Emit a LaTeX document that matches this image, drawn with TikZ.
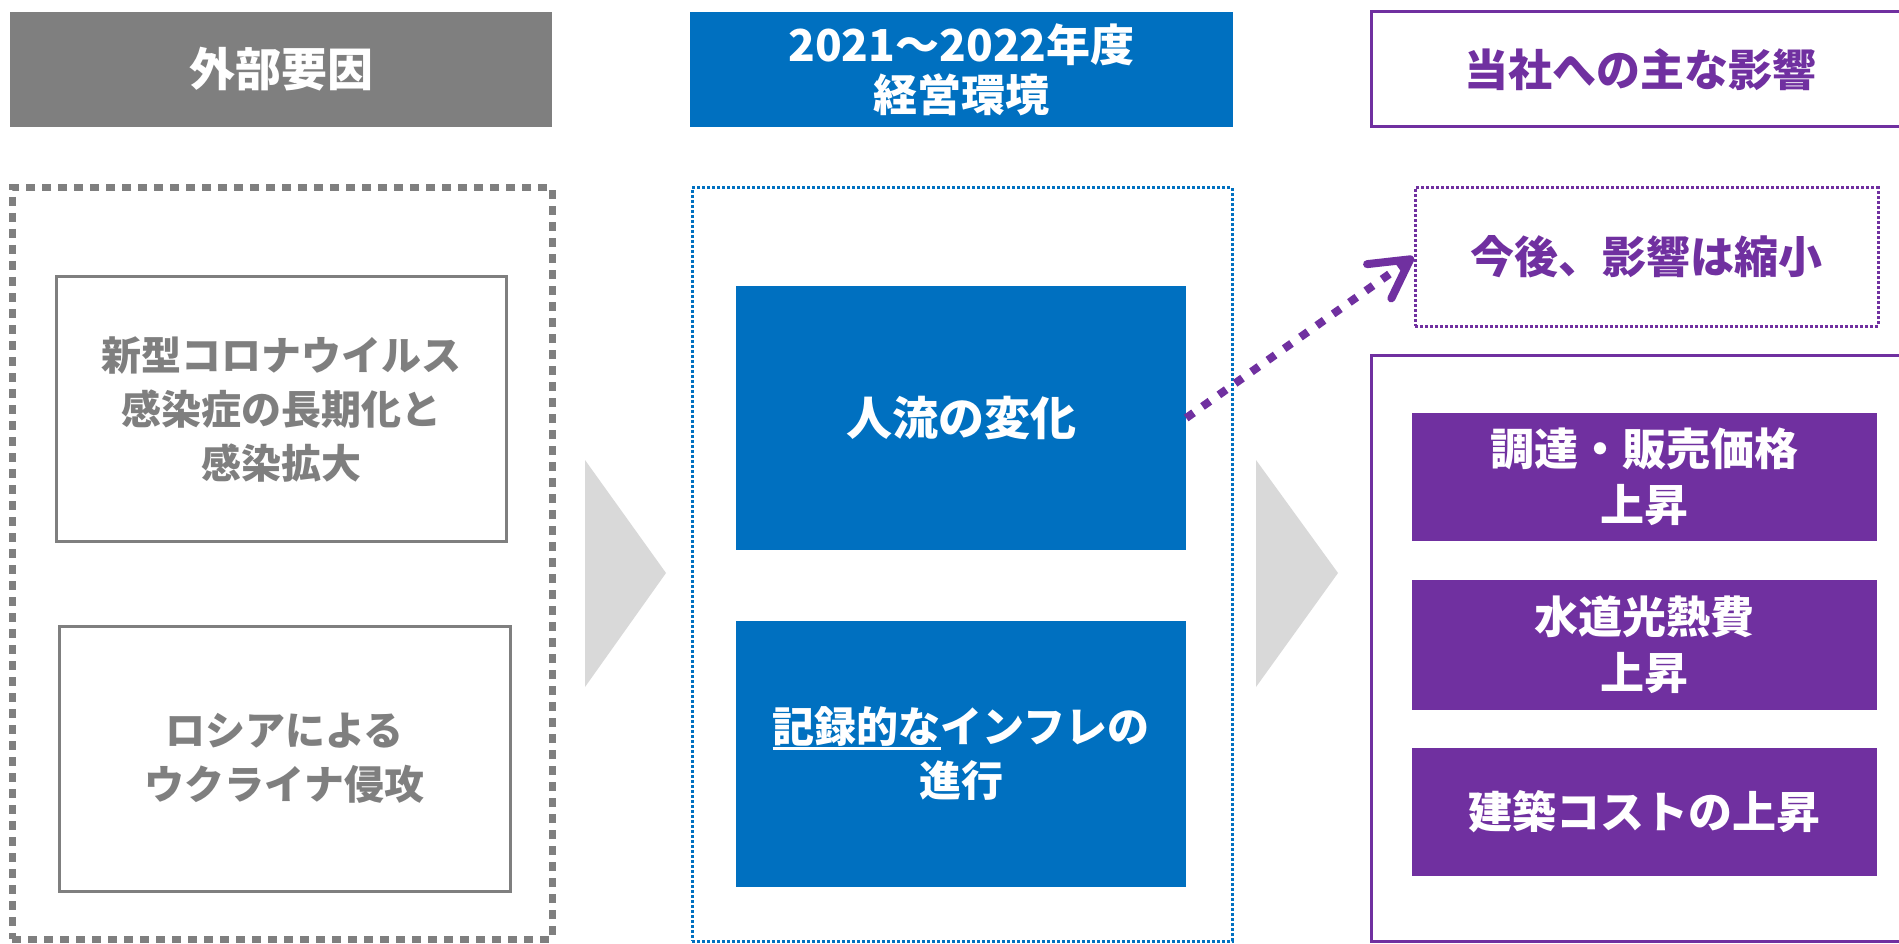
\documentclass[tikz,border=0pt]{standalone}
\usepackage{fontspec}
\setmainfont{Noto Sans CJK JP}
\usetikzlibrary{arrows.meta}
\definecolor{hgray}{HTML}{7F7F7F}
\definecolor{mblue}{HTML}{0070C0}
\definecolor{mpurple}{HTML}{7030A0}
\definecolor{chev}{HTML}{D9D9D9}
\newcommand\myul[1]{\setbox0\hbox{#1}\rlap{\rule[-7pt]{\wd0}{3pt}}\box0}
\tikzset{
  base/.style={rectangle, inner sep=0pt, align=center},
  hdr/.style={base, font=\fontsize{44}{50}\selectfont\bfseries},
  graybox/.style={base, draw=hgray, line width=3pt, text=hgray, font=\fontsize{40}{54}\selectfont\bfseries},
  bluebox/.style={base, fill=mblue, text=white, font=\fontsize{42}{54}\selectfont\bfseries},
  purpbox/.style={base, fill=mpurple, text=white, font=\fontsize{44}{56}\selectfont\bfseries},
  chevron/.style={fill=chev, draw=none},
}
\begin{document}
\begin{tikzpicture}[x=1pt,y=-1pt]
\clip (0,0) rectangle (1899,944);
\fill[white] (0,0) rectangle (1899,944);
% headers
\node[hdr, font=\fontsize{46}{50}\selectfont\bfseries, fill=hgray, text=white, minimum width=542pt, minimum height=115pt] (h1) at (281,69.5) {外部要因};
\node[hdr, fill=mblue, text=white, minimum width=543pt, minimum height=115pt] (h2) at (961.5,69.5) {2021～2022年度\\経営環境};
\node[hdr, draw=mpurple, line width=3pt, text=mpurple, minimum width=538pt, minimum height=115pt] (h3) at (1640,69.5) {当社への主な影響};
% left column
\node[base, draw=hgray, line width=7pt, dash pattern=on 9pt off 7pt, minimum width=540pt, minimum height=751pt] (gout) at (282,563.5) {};
\node[graybox, minimum width=450pt, minimum height=264pt] (g1) at (281,409) {新型コロナウイルス\\感染症の長期化と\\感染拡大};
\node[graybox, minimum width=451pt, minimum height=265pt] (g2) at (284.5,758.5) {ロシアによる\\ウクライナ侵攻};
% chevrons
\fill[chevron] (585,460) -- (666,573) -- (585,687) -- cycle;
\fill[chevron] (1256,460) -- (1338,573) -- (1256,687) -- cycle;
% middle column
\node[base, draw=mblue, line width=3pt, dash pattern=on 3pt off 2pt, minimum width=540pt, minimum height=753pt] (bout) at (962,564.5) {};
\node[bluebox, font=\fontsize{46}{54}\selectfont\bfseries, minimum width=450pt, minimum height=264pt] (b1) at (961,418) {人流の変化};
\node[bluebox, minimum width=450pt, minimum height=266pt] (b2) at (961,754) {\myul{記録的な}インフレの\\進行};
% right column
\node[hdr, draw=mpurple, line width=3pt, dash pattern=on 3pt off 2pt, text=mpurple, minimum width=463pt, minimum height=138pt] (pd) at (1646.5,257) {今後、影響は縮小};
\coordinate (potl) at (1371,355);
\coordinate (pobr) at (1915,941);
\draw[mpurple, line width=3pt] (potl) rectangle (pobr);
\node[purpbox, minimum width=465pt, minimum height=128pt] (p1) at (1644.5,477) {調達・販売価格\\上昇};
\node[purpbox, minimum width=465pt, minimum height=130pt] (p2) at (1644.5,645) {水道光熱費\\上昇};
\node[purpbox, minimum width=465pt, minimum height=128pt] (p3) at (1644.5,812) {建築コストの上昇};
% dotted arrow
\draw[mpurple, line width=8pt, dash pattern=on 9pt off 11pt,
  -{Straight Barb[length=38pt, width=42pt, line cap=round, line join=round]}]
  (b1.east) -- (pd.west);
\end{tikzpicture}
\end{document}
